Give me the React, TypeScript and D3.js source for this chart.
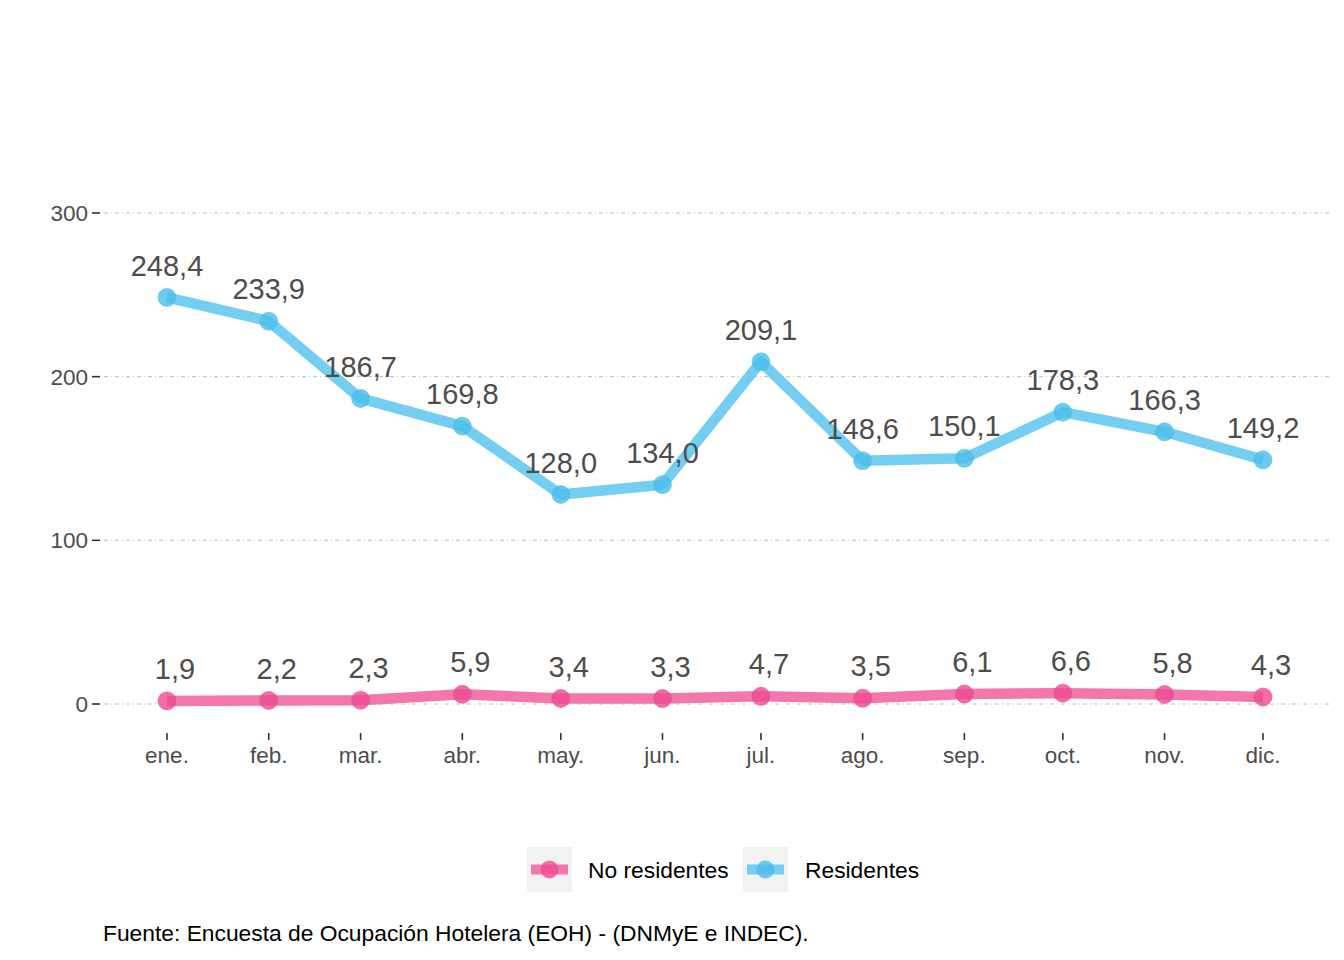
import React from "react";
import * as d3 from "d3";

const months = ["ene.", "feb.", "mar.", "abr.", "may.", "jun.", "jul.", "ago.", "sep.", "oct.", "nov.", "dic."];
const noResidentes = [1.9, 2.2, 2.3, 5.9, 3.4, 3.3, 4.7, 3.5, 6.1, 6.6, 5.8, 4.3];
const residentes = [248.4, 233.9, 186.7, 169.8, 128.0, 134.0, 209.1, 148.6, 150.1, 178.3, 166.3, 149.2];
const yTicks = [0, 100, 200, 300];

const W = 1344;
const H = 960;

export default function App() {
  const dates = months.map((_, i) => new Date(2023, i, 1));
  const x = d3.scaleTime().domain([dates[0], dates[11]]).range([167, 1263]);
  const y = d3.scaleLinear().domain([0, 300]).range([704, 213]);
  const fmt = (v: number) => v.toFixed(1).replace(".", ",");

  const series = [
    { name: "No residentes", values: noResidentes, line: "#F277AA", point: "#EE4A92", dx: 8 },
    { name: "Residentes", values: residentes, line: "#73CEF1", point: "#4ABEEA", dx: 0 },
  ];

  const lineGen = d3
    .line<number>()
    .x((_, i) => x(dates[i]))
    .y((d) => y(d));

  const font = "Arial, 'Liberation Sans', Helvetica, sans-serif";

  return (
    <svg width={W} height={H} style={{ position: "absolute", left: 0, top: 0, background: "#fff" }} fontFamily={font}>
      {yTicks.map((t) => (
        <g key={t}>
          <line x1={104} x2={1330} y1={y(t)} y2={y(t)} stroke="#BEBEBE" strokeWidth={1} strokeDasharray="4,3,1,3" />
          <line x1={92} x2={100} y1={y(t)} y2={y(t)} stroke="#333" strokeWidth={1.6} />
          <text x={88} y={y(t)} dy="0.35em" textAnchor="end" fontSize={22.5} fill="#4D4D4D">
            {t}
          </text>
        </g>
      ))}
      {dates.map((d, i) => (
        <g key={i}>
          <line x1={x(d)} x2={x(d)} y1={733} y2={740} stroke="#333" strokeWidth={1.6} />
          <text x={x(d)} y={763} textAnchor="middle" fontSize={22.5} fill="#4D4D4D">
            {months[i]}
          </text>
        </g>
      ))}
      {series.map((s) => (
        <g key={s.name}>
          <path d={lineGen(s.values) || ""} fill="none" stroke={s.line} strokeWidth={10.5} strokeLinejoin="round" />
          {s.values.map((v, i) => (
            <circle key={i} cx={x(dates[i])} cy={y(v)} r={9} fill={s.point} fillOpacity={0.8} stroke={s.point} strokeOpacity={0.6} strokeWidth={1} />
          ))}
          {s.values.map((v, i) => (
            <text key={"l" + i} x={x(dates[i]) + s.dx} y={y(v) - 32} dy="0.35em" textAnchor="middle" fontSize={29} fill="#4D4D4D">
              {fmt(v)}
            </text>
          ))}
        </g>
      ))}
      {/* legend */}
      <g>
        <rect x={527} y={847} width={45} height={45} fill="#F2F2F2" />
        <line x1={531} x2={568} y1={869.5} y2={869.5} stroke={series[0].line} strokeWidth={10} />
        <circle cx={549.5} cy={869.5} r={9} fill={series[0].point} fillOpacity={0.8} />
        <text x={588} y={870.5} dy="0.35em" fontSize={22.8} fill="#000">No residentes</text>
        <rect x={743} y={847} width={45} height={45} fill="#F2F2F2" />
        <line x1={747} x2={784} y1={869.5} y2={869.5} stroke={series[1].line} strokeWidth={10} />
        <circle cx={765.5} cy={869.5} r={9} fill={series[1].point} fillOpacity={0.8} />
        <text x={805} y={870.5} dy="0.35em" fontSize={22.8} fill="#000">Residentes</text>
      </g>
      <text x={103} y={941} fontSize={22.8} fill="#000">
        Fuente: Encuesta de Ocupación Hotelera (EOH) - (DNMyE e INDEC).
      </text>
    </svg>
  );
}
